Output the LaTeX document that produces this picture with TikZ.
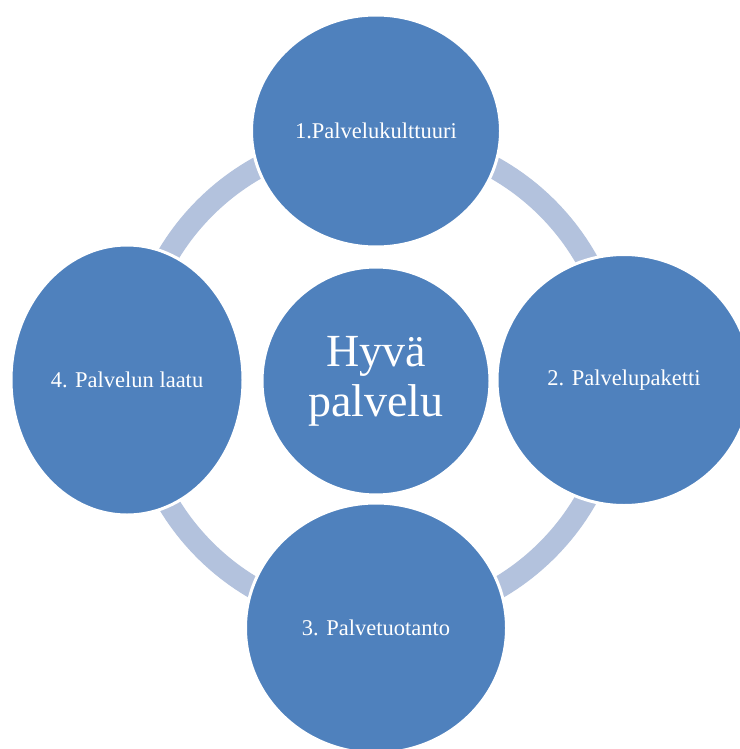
\documentclass[tikz,border=0pt]{standalone}
\usepackage{fontspec}
\setmainfont{Liberation Serif}
\usetikzlibrary{shapes.geometric}
\definecolor{accent}{RGB}{79,129,189}
\definecolor{ringblue}{RGB}{179,194,221}
\tikzstyle{phase}=[ellipse, fill=accent, draw=white, line width=3pt, inner sep=0pt, text=white, font=\fontsize{22.5}{26}\selectfont]
\tikzstyle{core}=[phase, circle, minimum size=228pt, align=center, font=\fontsize{46}{50}\selectfont]
\tikzstyle{ring}=[draw=ringblue, line width=22pt]

\begin{document}
\begin{tikzpicture}[x=1pt, y=-1pt]
    \useasboundingbox (0,0) rectangle (739,749);
    \coordinate (mid) at (376, 379);
    \draw[ring] (mid) circle[radius=242pt];
    \node[core] (c) at (376, 381) {Hyvä\\palvelu};
    \node[phase, minimum width=249pt, minimum height=232pt] (p1) at (376, 131) {1.Palvelukulttuuri};
    \node[phase, minimum width=254pt, minimum height=251pt] (p2) at (624, 380) {2. Palvelupaketti};
    \node[phase, minimum width=261pt, minimum height=250pt] (p3) at (376, 628) {3. Palvetuotanto};
    \node[phase, minimum width=232pt, minimum height=270pt] (p4) at (127, 380) {4. Palvelun laatu};
\end{tikzpicture}
\end{document}
